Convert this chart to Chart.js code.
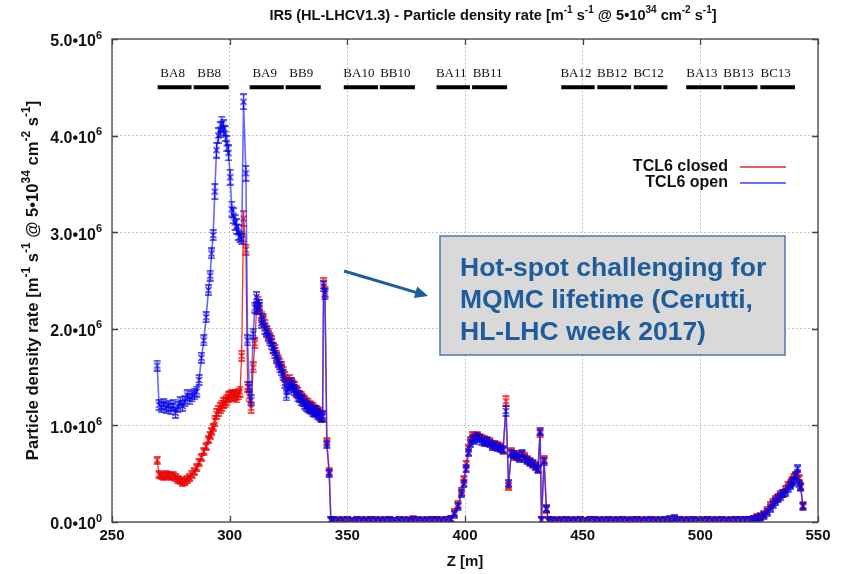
<!DOCTYPE html>
<html>
<head>
<meta charset="utf-8">
<script src="https://cdn.jsdelivr.net/npm/chart.js@4"></script>
<style>
  html, body { margin: 0; padding: 0; background: #fff; }
</style>
</head>
<body>
<canvas id="myChart" width="846" height="574"></canvas>
<script>
// Z position [m] of each sample
const zPos = [
    269.2, 270, 271, 272, 273, 274, 275, 276, 277, 278,
    279, 280, 281, 282, 283, 284, 285, 286, 287, 288,
    289, 290, 291, 291.7, 292.3, 293, 293.7, 294.4, 295.2, 296,
    296.7, 297.4, 298.1, 298.8, 299.5, 300.2, 300.9, 301.6, 302.3, 303,
    303.7, 304.4, 305.1, 305.9, 306.9, 307.6, 308.3, 309.1, 310, 310.7,
    311.4, 312, 312.7, 313.5, 314.2, 315, 315.7, 316.4, 317.1, 317.8,
    318.5, 319.2, 319.9, 320.6, 321.3, 322, 322.7, 323.4, 324.1, 324.8,
    325.5, 326.2, 326.9, 327.6, 328.3, 329, 329.7, 330.4, 331.1, 331.8,
    332.5, 333.2, 333.9, 334.6, 335.3, 336, 336.7, 337.4, 338.1, 338.8,
    339.5, 339.9, 340.5, 341.3, 342.3, 343,
    344, 346, 348, 350, 352, 354, 356, 358, 360, 362,
    364, 366, 368, 370, 372, 374, 376, 378, 380, 382,
    384, 386, 388, 390, 392,
    394, 395.5, 397, 398.5, 399.5, 400.5, 401.5, 402.3, 403.2, 404.2,
    405.2, 406.2, 407.2, 408.3, 409.4, 410.5, 411.6, 412.7, 413.8, 415,
    416.2, 417.4, 418.5, 419.7, 420.8, 422, 423.1, 424.2, 425.3, 426.4,
    427.6, 428.8, 430, 431, 431.9, 432.5, 433.6, 434.6, 435.4,
    437, 439, 441, 443, 445, 447, 449, 451, 453, 455,
    457, 459, 461, 463, 465, 467, 469, 471, 473, 475,
    477, 479, 481, 483, 485, 487, 489, 491, 493, 495,
    497, 499, 501, 503, 505, 507, 509, 511, 513, 515,
    517, 519,
    521, 522.5, 524, 525.5, 527, 528.4, 529.8, 530.9, 531.9, 533,
    534, 535.1, 536.2, 537.3, 538.3, 539, 539.7, 540.5, 541.3, 542,
    542.6, 543.6
];

// rates in units of 10^6 m-1 s-1
const openRate = [
    1.62, 1.21, 1.19, 1.22, 1.18, 1.20, 1.17, 1.21, 1.13, 1.19,
    1.24, 1.20, 1.25, 1.31, 1.27, 1.30, 1.32, 1.35, 1.47, 1.70,
    1.88, 2.12, 2.40, 2.55, 2.78, 2.97, 3.42, 3.85, 4.00, 4.06,
    4.12, 4.08, 4.02, 3.92, 3.82, 3.57, 3.24, 3.17, 3.10, 3.06,
    3.00, 2.95, 2.93, 4.35, 3.61, 1.88, 1.40, 1.26, 1.95, 2.22,
    2.33, 2.20, 2.25, 2.06, 2.10, 2.00, 1.98, 1.93, 1.88, 1.84,
    1.80, 1.75, 1.70, 1.66, 1.60, 1.57, 1.52, 1.44, 1.31, 1.38,
    1.42, 1.44, 1.40, 1.37, 1.35, 1.30, 1.29, 1.26, 1.25, 1.22,
    1.20, 1.19, 1.18, 1.17, 1.15, 1.14, 1.15, 1.12, 1.11, 1.09,
    1.10, 2.44, 2.36, 0.80, 0.50, 0.02,
    0.02, 0.01, 0.02, 0.02, 0.01, 0.02, 0.02, 0.01, 0.02, 0.02,
    0.01, 0.02, 0.02, 0.01, 0.02, 0.02, 0.01, 0.02, 0.02, 0.01,
    0.02, 0.02, 0.02, 0.01, 0.02,
    0.03, 0.08, 0.16, 0.29, 0.40, 0.55, 0.72, 0.81, 0.86, 0.84,
    0.88, 0.86, 0.83, 0.82, 0.84, 0.81, 0.78, 0.80, 0.77, 0.76,
    0.75, 1.15, 0.40, 0.71, 0.70, 0.68, 0.66, 0.71, 0.66, 0.64,
    0.62, 0.61, 0.57, 0.54, 0.94, 0.02, 0.63, 0.14, 0.02,
    0.02, 0.01, 0.02, 0.02, 0.01, 0.02, 0.02, 0.01, 0.02, 0.02,
    0.01, 0.02, 0.02, 0.01, 0.02, 0.02, 0.01, 0.02, 0.02, 0.01,
    0.02, 0.02, 0.01, 0.02, 0.02, 0.03, 0.04, 0.02, 0.01, 0.02,
    0.02, 0.01, 0.02, 0.02, 0.01, 0.02, 0.02, 0.01, 0.02, 0.02,
    0.02, 0.02,
    0.02, 0.03, 0.04, 0.05, 0.07, 0.10, 0.14, 0.18, 0.21, 0.24,
    0.26, 0.29, 0.31, 0.35, 0.38, 0.41, 0.43, 0.48, 0.55, 0.40,
    0.37, 0.16
];

const closedRate = [
    0.64, 0.49, 0.48, 0.47, 0.49, 0.48, 0.47, 0.48, 0.46, 0.44,
    0.43, 0.41, 0.42, 0.44, 0.46, 0.49, 0.52, 0.56, 0.62, 0.67,
    0.73, 0.78, 0.85, 0.90, 0.94, 0.98, 1.05, 1.12, 1.15, 1.18,
    1.20, 1.23, 1.24, 1.26, 1.29, 1.30, 1.31, 1.30, 1.31, 1.29,
    1.32, 1.35, 1.72, 3.14, 2.82, 1.40, 1.30, 1.18, 1.60, 1.85,
    2.20, 2.28, 2.22, 2.12, 2.08, 2.04, 1.97, 1.95, 1.90, 1.87,
    1.80, 1.78, 1.72, 1.68, 1.64, 1.60, 1.55, 1.50, 1.46, 1.44,
    1.47, 1.44, 1.42, 1.40, 1.36, 1.34, 1.30, 1.29, 1.27, 1.25,
    1.23, 1.22, 1.20, 1.19, 1.18, 1.16, 1.15, 1.14, 1.13, 1.10,
    1.09, 2.47, 2.38, 0.83, 0.52, 0.02,
    0.01, 0.02, 0.01, 0.02, 0.01, 0.02, 0.01, 0.02, 0.02, 0.01,
    0.02, 0.01, 0.02, 0.01, 0.02, 0.01, 0.02, 0.03, 0.01, 0.02,
    0.01, 0.02, 0.02, 0.02, 0.02,
    0.03, 0.10, 0.18, 0.32, 0.44, 0.60, 0.76, 0.84, 0.90, 0.88,
    0.90, 0.87, 0.86, 0.85, 0.82, 0.83, 0.80, 0.78, 0.79, 0.78,
    0.74, 1.25, 0.37, 0.73, 0.68, 0.70, 0.67, 0.70, 0.68, 0.65,
    0.63, 0.60, 0.58, 0.55, 0.92, 0.02, 0.65, 0.13, 0.01,
    0.01, 0.02, 0.01, 0.02, 0.02, 0.01, 0.02, 0.01, 0.02, 0.02,
    0.02, 0.01, 0.02, 0.02, 0.01, 0.02, 0.02, 0.01, 0.02, 0.02,
    0.01, 0.02, 0.02, 0.01, 0.02, 0.02, 0.03, 0.02, 0.02, 0.01,
    0.02, 0.02, 0.01, 0.02, 0.02, 0.01, 0.02, 0.02, 0.01, 0.02,
    0.02, 0.02,
    0.02, 0.03, 0.05, 0.06, 0.08, 0.12, 0.17, 0.20, 0.23, 0.25,
    0.28, 0.30, 0.34, 0.38, 0.40, 0.43, 0.46, 0.47, 0.50, 0.45,
    0.36, 0.17
];

const seriesNames = ['TCL6 closed', 'TCL6 open'];

// magnet sections along Z
const sectionNames = ['BA8', 'BB8', 'BA9', 'BB9', 'BA10', 'BB10', 'BA11', 'BB11',
                      'BA12', 'BB12', 'BC12', 'BA13', 'BB13', 'BC13'];
const sectionStart = [269.4, 284.7, 308.5, 323.8, 348.5, 363.8, 387.9, 403.0,
                      440.9, 456.2, 471.7, 494.0, 509.8, 525.5];
const sectionEnd   = [283.8, 299.6, 323.0, 338.7, 363.0, 378.7, 402.1, 417.9,
                      455.1, 470.6, 486.0, 509.0, 524.3, 540.2];
const sectionLevel = 4.5;

const yTickText = ['0.0', '1.0', '2.0', '3.0', '4.0', '5.0'];
const yTickExp  = ['0', '6', '6', '6', '6', '6'];

const noteLines = ['Hot-spot challenging for', 'MQMC lifetime (Cerutti,', 'HL-LHC week 2017)'];


const SANS = '"Liberation Sans", Arial, sans-serif';

function makeGlyph(color, h) {
    const c = document.createElement('canvas');
    c.width = 9;
    c.height = h;
    const g = c.getContext('2d');
    g.strokeStyle = color;
    g.lineWidth = 1.4;
    const m = h / 2;
    const d = Math.min(3, m - 1);
    g.beginPath();
    g.moveTo(1.5, m - d); g.lineTo(7.5, m + d);
    g.moveTo(7.5, m - d); g.lineTo(1.5, m + d);
    g.moveTo(4.5, 1); g.lineTo(4.5, h - 1);
    g.moveTo(1, 1); g.lineTo(8, 1);
    g.moveTo(1, h - 1); g.lineTo(8, h - 1);
    g.stroke();
    return c;
}

function glyphSet(color) {
    return { s: makeGlyph(color, 9), m: makeGlyph(color, 9), l: makeGlyph(color, 12), xl: makeGlyph(color, 17) };
}

const blueGlyphs = glyphSet('rgba(0,0,230,0.85)');
const redGlyphs = glyphSet('rgba(235,0,0,0.9)');

function pickGlyph(set, ctx) {
    const v = ctx.raw ? ctx.raw.y : 0;
    if (v >= 3) return set.xl;
    if (v >= 1) return set.l;
    if (v >= 0.3) return set.m;
    return set.s;
}

// text with superscripts: parts = [[text, isSup], ...]
function drawRich(ctx, parts, x, y, size, align) {
    ctx.save();
    ctx.textBaseline = 'middle';
    ctx.textAlign = 'left';
    const supSize = Math.round(size * 0.7);
    const widths = parts.map(p => {
        ctx.font = 'bold ' + (p[1] ? supSize : size) + 'px ' + SANS;
        return ctx.measureText(p[0]).width;
    });
    const total = widths.reduce((a, b) => a + b, 0);
    let cx = x;
    if (align === 'right') cx = x - total;
    else if (align === 'center') cx = x - total / 2;
    parts.forEach((p, i) => {
        ctx.font = 'bold ' + (p[1] ? supSize : size) + 'px ' + SANS;
        ctx.fillText(p[0], cx, p[1] ? y - size * 0.4 : y);
        cx += widths[i];
    });
    ctx.restore();
}

let sectionData = [];
sectionNames.forEach((n, i) => {
    sectionData.push({ x: sectionStart[i], y: sectionLevel });
    sectionData.push({ x: sectionEnd[i], y: sectionLevel });
    sectionData.push({ x: sectionEnd[i], y: null });
});

const decorPlugin = {
    id: 'decor',
    afterDraw(chart) {
        const ctx = chart.ctx;
        const a = chart.chartArea;
        const xs = chart.scales.x;
        const ys = chart.scales.y;

        // frame + mirrored inward ticks
        ctx.save();
        ctx.strokeStyle = '#444';
        ctx.lineWidth = 1.3;
        ctx.strokeRect(a.left, a.top, a.right - a.left, a.bottom - a.top);
        ctx.beginPath();
        xs.ticks.forEach(t => {
            const px = Math.round(xs.getPixelForValue(t.value)) + 0.5;
            ctx.moveTo(px, a.bottom); ctx.lineTo(px, a.bottom - 6);
            ctx.moveTo(px, a.top); ctx.lineTo(px, a.top + 6);
        });
        ys.ticks.forEach(t => {
            const py = Math.round(ys.getPixelForValue(t.value)) + 0.5;
            ctx.moveTo(a.left, py); ctx.lineTo(a.left + 6, py);
            ctx.moveTo(a.right, py); ctx.lineTo(a.right - 6, py);
        });
        ctx.stroke();
        ctx.restore();

        ctx.fillStyle = '#111';

        // y tick labels
        ys.ticks.forEach((t, i) => {
            const py = ys.getPixelForValue(t.value);
            drawRich(ctx, [[yTickText[i] + '\u202210', false], [yTickExp[i], true]], 102, py + 3, 16, 'right');
        });

        // title
        drawRich(ctx, [
            ['IR5 (HL-LHCV1.3) - Particle density rate [m', false], ['-1', true],
            [' s', false], ['-1', true], [' @ 5\u202210', false], ['34', true],
            [' cm', false], ['-2', true], [' s', false], ['-1', true], [']', false]
        ], 493, 16, 14.6, 'center');

        // y axis title
        ctx.save();
        ctx.translate(33, (a.top + a.bottom) / 2);
        ctx.rotate(-Math.PI / 2);
        drawRich(ctx, [
            ['Particle density rate [m', false], ['-1', true], [' s', false], ['-1', true],
            [' @ 5\u202210', false], ['34', true], [' cm', false], ['-2', true],
            [' s', false], ['-1', true], [']', false]
        ], 0, 0, 16.6, 'center');
        ctx.restore();

        // x axis title
        ctx.save();
        ctx.font = 'bold 15px ' + SANS;
        ctx.textAlign = 'center';
        ctx.textBaseline = 'middle';
        ctx.fillText('Z [m]', (a.left + a.right) / 2, 562);
        ctx.restore();

        // section labels
        ctx.save();
        ctx.font = '13px "Liberation Serif", "Times New Roman", serif';
        ctx.textAlign = 'center';
        ctx.textBaseline = 'middle';
        ctx.fillStyle = '#111';
        sectionNames.forEach((n, i) => {
            const cx = xs.getPixelForValue((sectionStart[i] + sectionEnd[i]) / 2) - 2;
            ctx.fillText(n, cx, ys.getPixelForValue(sectionLevel) - 14);
        });
        ctx.restore();

        // legend
        ctx.save();
        ctx.font = 'bold 16px ' + SANS;
        ctx.textAlign = 'right';
        ctx.textBaseline = 'middle';
        const legColors = ['rgba(215,20,20,0.9)', 'rgba(30,30,255,0.85)'];
        seriesNames.forEach((n, i) => {
            const ly = 167 + i * 16;
            ctx.fillStyle = '#111';
            ctx.fillText(n, 728, ly);
            ctx.strokeStyle = legColors[i];
            ctx.lineWidth = 1.5;
            ctx.beginPath();
            ctx.moveTo(740, ly); ctx.lineTo(786, ly);
            ctx.stroke();
        });
        ctx.restore();

        // annotation arrow
        ctx.save();
        ctx.strokeStyle = '#1f5c9c';
        ctx.fillStyle = '#1f5c9c';
        ctx.lineWidth = 3;
        const ax1 = 344, ay1 = 271, ax2 = 428, ay2 = 296;
        const ang = Math.atan2(ay2 - ay1, ax2 - ax1);
        ctx.beginPath();
        ctx.moveTo(ax1, ay1);
        ctx.lineTo(ax2 - 9 * Math.cos(ang), ay2 - 9 * Math.sin(ang));
        ctx.stroke();
        ctx.beginPath();
        ctx.moveTo(ax2, ay2);
        ctx.lineTo(ax2 - 13 * Math.cos(ang) + 6 * Math.sin(ang), ay2 - 13 * Math.sin(ang) - 6 * Math.cos(ang));
        ctx.lineTo(ax2 - 13 * Math.cos(ang) - 6 * Math.sin(ang), ay2 - 13 * Math.sin(ang) + 6 * Math.cos(ang));
        ctx.closePath();
        ctx.fill();
        ctx.restore();

        // annotation box
        ctx.save();
        ctx.fillStyle = '#d9d9d9';
        ctx.fillRect(440, 236, 345, 119);
        ctx.strokeStyle = '#4a78ad';
        ctx.lineWidth = 1.5;
        ctx.strokeRect(440, 236, 345, 119);
        ctx.font = 'bold 26.5px ' + SANS;
        ctx.fillStyle = '#1f5c9c';
        ctx.textAlign = 'left';
        ctx.textBaseline = 'alphabetic';
        noteLines.forEach((s, i) => ctx.fillText(s, 460, 276 + i * 32));
        ctx.restore();
    }
};

const myChart = new Chart(document.getElementById('myChart'), {
    type: 'line',
    data: {
        datasets: [
            {
                label: 'sections',
                data: sectionData,
                borderColor: '#000',
                borderWidth: 4,
                pointRadius: 0,
                spanGaps: false,
                order: 0
            },
            {
                label: seriesNames[1],
                data: zPos.map((z, i) => ({ x: z, y: openRate[i] })),
                borderColor: 'rgba(40,40,255,0.7)',
                borderWidth: 1.6,
                pointStyle: c => pickGlyph(blueGlyphs, c),
                pointRadius: 3,
                order: 1
            },
            {
                label: seriesNames[0],
                data: zPos.map((z, i) => ({ x: z, y: closedRate[i] })),
                borderColor: 'rgba(230,20,20,0.85)',
                borderWidth: 1.3,
                pointStyle: c => pickGlyph(redGlyphs, c),
                pointRadius: 3,
                order: 2
            }
        ]
    },
    options: {
        responsive: false,
        animation: false,
        events: [],
        layout: { padding: { top: 39, right: 28, left: 0, bottom: 0 } },
        plugins: {
            legend: { display: false },
            tooltip: { enabled: false },
            title: { display: false }
        },
        scales: {
            x: {
                type: 'linear',
                min: 250,
                max: 550,
                ticks: {
                    stepSize: 50,
                    color: '#111',
                    padding: 5,
                    maxRotation: 0,
                    font: { family: SANS, size: 15, weight: 'bold' }
                },
                grid: { color: '#b4b4b4', lineWidth: 1, drawTicks: false },
                border: { display: false, dash: [1.5, 2.5] },
                afterFit: s => { s.height = 52; }
            },
            y: {
                min: 0,
                max: 5,
                ticks: { stepSize: 1, display: false },
                grid: { color: '#b4b4b4', lineWidth: 1, drawTicks: false },
                border: { display: false, dash: [1.5, 2.5] },
                afterFit: s => { s.width = 112; }
            }
        }
    },
    plugins: [decorPlugin]
});
</script>
</body>
</html>
